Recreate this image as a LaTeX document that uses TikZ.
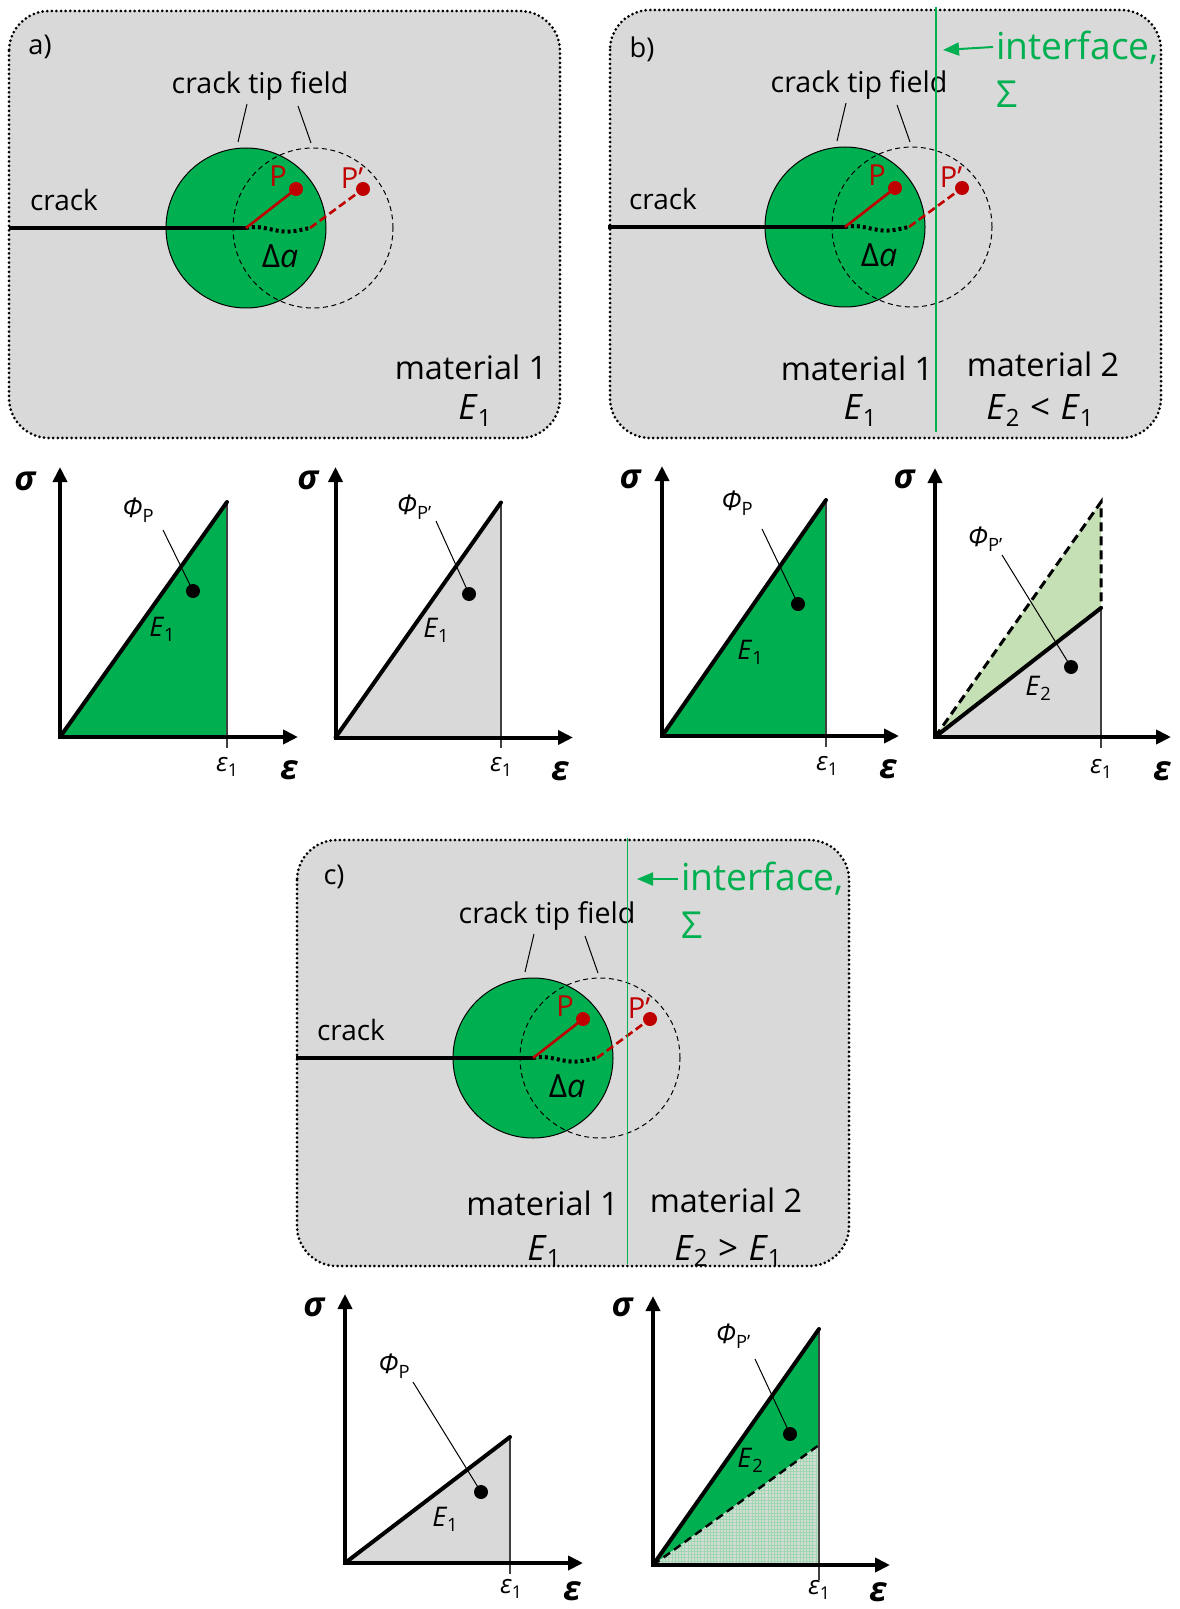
\documentclass[tikz,border=0pt]{standalone}
\usepackage{fontspec}
\usepackage{graphicx}
\setmainfont{Open Sans}
\usetikzlibrary{arrows.meta,patterns.meta}
\definecolor{ogreen}{HTML}{00B050}
\definecolor{lgreen}{HTML}{C5E0B4}
\definecolor{pgray}{HTML}{D9D9D9}
\definecolor{ored}{HTML}{C00000}
\definecolor{vgray}{HTML}{404040}
\definecolor{patbg}{HTML}{D3DDD5}
\definecolor{patfg}{HTML}{9ED6B0}
\newcommand\lsub[1]{\raisebox{-0.35ex}{\scalebox{0.68}{#1}}}
\newcommand\fs[1]{\fontsize{#1}{#1}\selectfont}
\tikzset{
  panelbox/.style={draw=black, fill=pgray, line width=1.5pt, dash pattern=on 0pt off 2.3pt, line cap=round, rounded corners=20pt},
  fieldcircle/.style={circle, draw=black, line width=0.5pt, fill=ogreen, minimum size=80pt, inner sep=0pt},
  movedcircle/.style={circle, draw=black, line width=0.5pt, dash pattern=on 2.5pt off 1.8pt, minimum size=80pt, inner sep=0pt},
  crackline/.style={line width=1.6pt, black},
  redline/.style={line width=1.3pt, ored},
  reddash/.style={line width=1.3pt, ored, dash pattern=on 4pt off 2pt},
  extline/.style={line width=2pt, black, dash pattern=on 1.5pt off 1.5pt},
  pdot/.style={circle, fill=ored, minimum size=7pt, inner sep=0pt},
  plabel/.style={text=ored, font=\fs{14.5}, inner sep=0pt},
  leadline/.style={line width=0.5pt, black},
  txt/.style={inner sep=0pt},
  interline/.style={ogreen, line width=0.6pt},
  interarrow/.style={ogreen, line width=1pt, -{Triangle[length=8pt,width=6.5pt]}},
  intertext/.style={text=ogreen, font=\fs{18.6}, inner sep=0pt, anchor=base west},
  mattext/.style={font=\fs{16.2}, inner sep=0pt, anchor=base},
  elarge/.style={font=\fs{17.5}, inner sep=0pt, anchor=base},
  grax/.style={line width=2pt, line join=miter, {Triangle[length=7.5pt,width=7pt]}-{Triangle[length=7.5pt,width=7pt]}},
  hypline/.style={line width=2pt, black, line cap=round},
  hypdash/.style={line width=1.5pt, black, dash pattern=on 4.5pt off 2.5pt},
  vline/.style={line width=0.65pt, vgray},
  gdot/.style={circle, fill=black, minimum size=7pt, inner sep=0pt},
  sigl/.style={font=\fs{17}\bfseries\itshape, inner sep=0pt},
  epsl/.style={font=\fs{17}\bfseries\itshape, inner sep=0pt},
  eps1l/.style={font=\fs{13}\itshape, inner sep=0pt},
  phil/.style={font=\fs{13.5}, inner sep=0pt},
  elab/.style={font=\fs{13.5}, inner sep=0pt},
  pics/crackfield/.style={code={
    \coordinate (-start) at (-237,0);
    \coordinate (-tip) at (0,0);
    \coordinate (-ext) at (64,0);
    \node[fieldcircle] (-field) at (0,0) {};
    \node[movedcircle] (-moved) at (67,0) {};
    \draw[crackline] (-start) -- (-tip);
    \draw[extline] (-tip) .. controls (15,-4) and (30,5) .. (44,3.5) .. controls (52,3) and (58,1) .. (-ext);
    \node[pdot] (-P) at (50,-39) {};
    \node[pdot] (-Q) at (117,-39) {};
    \draw[redline] (-tip) -- (-P.center);
    \draw[reddash] (-ext) -- (-Q.center);
    \node[plabel] (-Pl) at (32,-52) {P};
    \node[plabel] (-Ql) at (106,-50) {P’};
    \node[txt, font=\fs{16}] (-da) at (34,28) {Δ\textit{a}};
    \node[txt, font=\fs{14.3}] (-ctf) at (14,-142) {crack tip field};
    \coordinate (-l1a) at (1,-124);
    \coordinate (-l1b) at (-8,-86);
    \coordinate (-l2a) at (52,-122);
    \coordinate (-l2b) at (65,-85);
    \draw[leadline] (-l1a) -- (-l1b);
    \draw[leadline] (-l2a) -- (-l2b);
    \node[txt, font=\fs{14}] (-crack) at (-182,-28) {crack};
  }}
}
\begin{document}
\begin{tikzpicture}[x=0.5pt,y=-0.5pt]
\useasboundingbox (0,0) rectangle (1179,1609);
\fill[white] (0,0) rectangle (1179,1609);

% ---------------- panel a
\draw[panelbox] (9,11) rectangle (560,438);
\node[txt, font=\fs{13.6}] (alab) at (40,47) {a)};
\pic (pa) at (246,228) {crackfield};
\node[mattext] (am1) at (471,380) {material 1};
\node[elarge] (aE1) at (475,420) {\textit{E}\lsub{1}};

% ---------------- panel b
\draw[panelbox] (610,10) rectangle (1161,438);
\node[txt, font=\fs{13.6}] (blab) at (642,49) {b)};
\pic (pb) at (845,227) {crackfield};
\coordinate (bit) at (936,7);
\coordinate (bib) at (936,432);
\draw[interline] (bit) -- (bib);
\node[intertext] (bint) at (996,60) {interface,};
\node[intertext] (bsig) at (996,108) {Σ};
\coordinate (barr) at (943,50);
\draw[interarrow] (bint.base west) ++(-3,-13) -- (barr);
\node[mattext] (bm1) at (857,381) {material 1};
\node[elarge] (bE1) at (860,420) {\textit{E}\lsub{1}};
\node[mattext] (bm2) at (1043,377) {material 2};
\node[elarge] (bE2) at (1040,420) {\textit{E}\lsub{2}\hspace{0.3em}<\hspace{0.3em}\textit{E}\lsub{1}};

% ---------------- panel c
\draw[panelbox] (297,840) rectangle (849,1266);
\node[txt, font=\fs{13.6}] (clab) at (334,877) {c)};
\pic (pc) at (533,1058) {crackfield};
\coordinate (cit) at (627.5,838);
\coordinate (cib) at (627.5,1264);
\draw[interline] (cit) -- (cib);
\node[intertext] (cint) at (681,890) {interface,};
\node[intertext] (csig) at (681,938) {Σ};
\coordinate (carr) at (637,879);
\draw[interarrow] (cint.base west) ++(-3,-11) -- (carr);
\node[mattext] (cm1) at (542.5,1215) {material 1};
\node[elarge] (cE1) at (544,1260) {\textit{E}\lsub{1}};
\node[mattext] (cm2) at (726,1212) {material 2};
\node[elarge] (cE2) at (728,1260) {\textit{E}\lsub{2}\hspace{0.3em}>\hspace{0.3em}\textit{E}\lsub{1}};

% ---------------- graph 1
\coordinate (g1o) at (60,737);
\coordinate (g1y) at (60,467);
\coordinate (g1x) at (298,737);
\coordinate (g1t) at (227,502);
\coordinate (g1b) at (227,748);
\fill[ogreen] (g1o) -- (g1t) -- (g1t |- g1o) -- cycle;
\draw[vline] (g1t) -- (g1b);
\draw[hypline] (g1o) -- (g1t);
\draw[grax] (g1y) -- (g1o) -- (g1x);
\node[sigl] (g1s) at (25,481) {σ};
\node[epsl] (g1e) at (289,770) {ε};
\node[eps1l] (g1e1) at (227,767) {ε\lsub{\upshape 1}};
\node[phil] (g1phi) at (138,510) {\textit{Φ}\lsub{P}};
\node[gdot] (g1d) at (193,591) {};
\coordinate (g1la) at (163,530);
\draw[leadline] (g1la) -- (g1d.center);
\node[elab] (g1E) at (162,629) {\textit{E}\lsub{1}};

% ---------------- graph 2
\coordinate (g2o) at (335.5,737.5);
\coordinate (g2y) at (335.5,467);
\coordinate (g2x) at (573,737.5);
\coordinate (g2t) at (501,502.5);
\coordinate (g2b) at (501,748);
\fill[pgray] (g2o) -- (g2t) -- (g2t |- g2o) -- cycle;
\draw[vline] (g2t) -- (g2b);
\draw[hypline] (g2o) -- (g2t);
\draw[grax] (g2y) -- (g2o) -- (g2x);
\node[sigl] (g2s) at (308,480) {σ};
\node[epsl] (g2e) at (560,771) {ε};
\node[eps1l] (g2e1) at (501,767) {ε\lsub{\upshape 1}};
\node[phil] (g2phi) at (414,507) {\textit{Φ}\lsub{P’}};
\node[gdot] (g2d) at (469,594) {};
\coordinate (g2la) at (436,521);
\draw[leadline] (g2la) -- (g2d.center);
\node[elab] (g2E) at (436,630) {\textit{E}\lsub{1}};

% ---------------- graph 3
\coordinate (g3o) at (662,736);
\coordinate (g3y) at (662,466);
\coordinate (g3x) at (899,736);
\coordinate (g3t) at (826,500);
\coordinate (g3b) at (826,747);
\fill[ogreen] (g3o) -- (g3t) -- (g3t |- g3o) -- cycle;
\draw[vline] (g3t) -- (g3b);
\draw[hypline] (g3o) -- (g3t);
\draw[grax] (g3y) -- (g3o) -- (g3x);
\node[sigl] (g3s) at (630,479) {σ};
\node[epsl] (g3e) at (888,769) {ε};
\node[eps1l] (g3e1) at (827,766) {ε\lsub{\upshape 1}};
\node[phil] (g3phi) at (737,503) {\textit{Φ}\lsub{P}};
\node[gdot] (g3d) at (798,604) {};
\coordinate (g3la) at (762,529);
\draw[leadline] (g3la) -- (g3d.center);
\node[elab] (g3E) at (750,652) {\textit{E}\lsub{1}};

% ---------------- graph 4
\coordinate (g4o) at (935,737);
\coordinate (g4y) at (935,468);
\coordinate (g4x) at (1171,737);
\coordinate (g4t) at (1101,502);
\coordinate (g4m) at (1101,608);
\coordinate (g4b) at (1101,748);
\fill[lgreen] (g4o) -- (g4t) -- (g4m) -- cycle;
\fill[pgray] (g4o) -- (g4m) -- (g4m |- g4o) -- cycle;
\draw[vline] (g4m) -- (g4b);
\draw[hypdash] (g4o) -- (g4t) -- (g4m);
\draw[hypline] (g4o) -- (g4m);
\draw[grax] (g4y) -- (g4o) -- (g4x);
\node[sigl] (g4s) at (904,479) {σ};
\node[epsl] (g4e) at (1162,771) {ε};
\node[eps1l] (g4e1) at (1101,769) {ε\lsub{\upshape 1}};
\node[phil] (g4phi) at (985,539) {\textit{Φ}\lsub{P’}};
\node[gdot] (g4d) at (1071,667) {};
\coordinate (g4la) at (1002,555);
\draw[leadline] (g4la) -- (g4d.center);
\node[elab] (g4E) at (1038,688) {\textit{E}\lsub{2}};

% ---------------- graph 5
\coordinate (g5o) at (345,1563);
\coordinate (g5y) at (345,1294);
\coordinate (g5x) at (583,1563);
\coordinate (g5t) at (510,1437);
\coordinate (g5b) at (510,1574);
\fill[pgray] (g5o) -- (g5t) -- (g5t |- g5o) -- cycle;
\draw[vline] (g5t) -- (g5b);
\draw[hypline] (g5o) -- (g5t);
\draw[grax] (g5y) -- (g5o) -- (g5x);
\node[sigl] (g5s) at (314,1307) {σ};
\node[epsl] (g5e) at (572,1591) {ε};
\node[eps1l] (g5e1) at (511,1589) {ε\lsub{\upshape 1}};
\node[phil] (g5phi) at (394,1366) {\textit{Φ}\lsub{P}};
\node[gdot] (g5d) at (481,1492) {};
\coordinate (g5la) at (413,1382);
\draw[leadline] (g5la) -- (g5d.center);
\node[elab] (g5E) at (445,1519) {\textit{E}\lsub{1}};

% ---------------- graph 6
\coordinate (g6o) at (653,1565);
\coordinate (g6y) at (653,1296);
\coordinate (g6x) at (890,1565);
\coordinate (g6t) at (819,1329);
\coordinate (g6m) at (819,1445);
\coordinate (g6b) at (819,1580);
\fill[ogreen] (g6o) -- (g6t) -- (g6m) -- cycle;
\fill[patbg] (g6o) -- (g6m) -- (g6m |- g6o) -- cycle;
\fill[pattern={Lines[angle=0,distance=1.6pt,line width=0.45pt]}, pattern color=patfg] (g6o) -- (g6m) -- (g6m |- g6o) -- cycle;
\fill[pattern={Lines[angle=90,distance=1.6pt,line width=0.45pt]}, pattern color=patfg] (g6o) -- (g6m) -- (g6m |- g6o) -- cycle;
\draw[vline] (g6t) -- (g6b);
\draw[hypdash, line width=1.2pt, dash pattern=on 4pt off 2.5pt] (g6o) -- (g6m);
\draw[hypline] (g6o) -- (g6t);
\draw[grax] (g6y) -- (g6o) -- (g6x);
\node[sigl] (g6s) at (622,1307) {σ};
\node[epsl] (g6e) at (878,1592) {ε};
\node[eps1l] (g6e1) at (819,1590) {ε\lsub{\upshape 1}};
\node[phil] (g6phi) at (733,1336) {\textit{Φ}\lsub{P’}};
\node[gdot] (g6d) at (790,1434) {};
\coordinate (g6la) at (755,1359);
\draw[leadline] (g6la) -- (g6d.center);
\node[elab] (g6E) at (750,1460) {\textit{E}\lsub{2}};
\end{tikzpicture}
\end{document}
